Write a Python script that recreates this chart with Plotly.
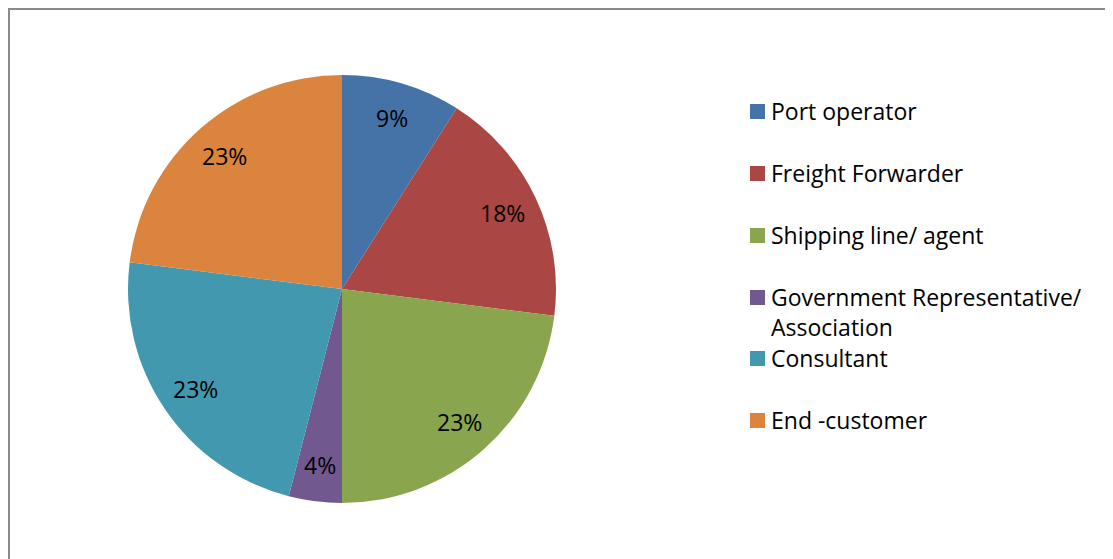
import math
import plotly.graph_objects as go

labels = ["Port operator", "Freight Forwarder", "Shipping line/ agent",
          "Government Representative/<br>Association", "Consultant", "End -customer"]
values = [9, 18, 23, 4, 23, 23]
colors = ["#4572A7", "#AA4643", "#89A54E", "#71588F", "#4198AF", "#DB843D"]

W, H = 1113, 559
FONT = "'Open Sans', 'Noto Sans', sans-serif"

# pie geometry in figure pixels
CX, CY, R = 334, 281, 214
LABEL_R = 0.83

fig = go.Figure()
fig.add_trace(go.Pie(
    labels=labels, values=values, sort=False, direction="clockwise", rotation=0,
    marker=dict(colors=colors, line=dict(width=0)),
    textinfo="none",
    domain=dict(x=[(CX - R) / W, (CX + R) / W], y=[1 - (CY + R) / H, 1 - (CY - R) / H]),
    showlegend=False, hoverinfo="label+percent",
))

shapes = [dict(type="rect", xref="paper", yref="paper",
               x0=1 / W, x1=1.2, y0=-0.2, y1=1 - 1 / H,
               line=dict(color="#8a8a8a", width=2), fillcolor="rgba(0,0,0,0)")]
annotations = []

# percentage labels placed at slice mid-angles (Excel style)
total = sum(values)
cum = 0
for v in values:
    mid = (cum + v / 2) / total * 2 * math.pi
    cum += v
    px = CX + LABEL_R * R * math.sin(mid)
    py = CY - LABEL_R * R * math.cos(mid)
    annotations.append(dict(xref="paper", yref="paper", x=px / W, y=1 - py / H,
                            xanchor="center", yanchor="middle", showarrow=False,
                            text=f"{round(v / total * 100)}%",
                            font=dict(family=FONT, size=23, color="#000000")))

# manual legend (Excel-style spacing)
legend_y = [103, 165, 227, 289, 350, 412]
LINE_H = 30
for lab, col, y in zip(labels, colors, legend_y):
    shapes.append(dict(type="rect", xref="paper", yref="paper",
                       x0=742 / W, x1=757 / W, y0=1 - (y + 8) / H, y1=1 - (y - 7) / H,
                       fillcolor=col, line=dict(width=0)))
    n = lab.count("<br>") + 1
    yc = y + (n - 1) * LINE_H / 2
    annotations.append(dict(xref="paper", yref="paper", x=761 / W, y=1 - yc / H,
                            xanchor="left", yanchor="middle", align="left", showarrow=False,
                            text=lab, font=dict(family=FONT, size=23, color="#000000")))

fig.update_layout(
    width=W, height=H, margin=dict(l=0, r=0, t=0, b=0),
    paper_bgcolor="white", plot_bgcolor="white",
    shapes=shapes, annotations=annotations,
)
fig.write_html("out.html")
